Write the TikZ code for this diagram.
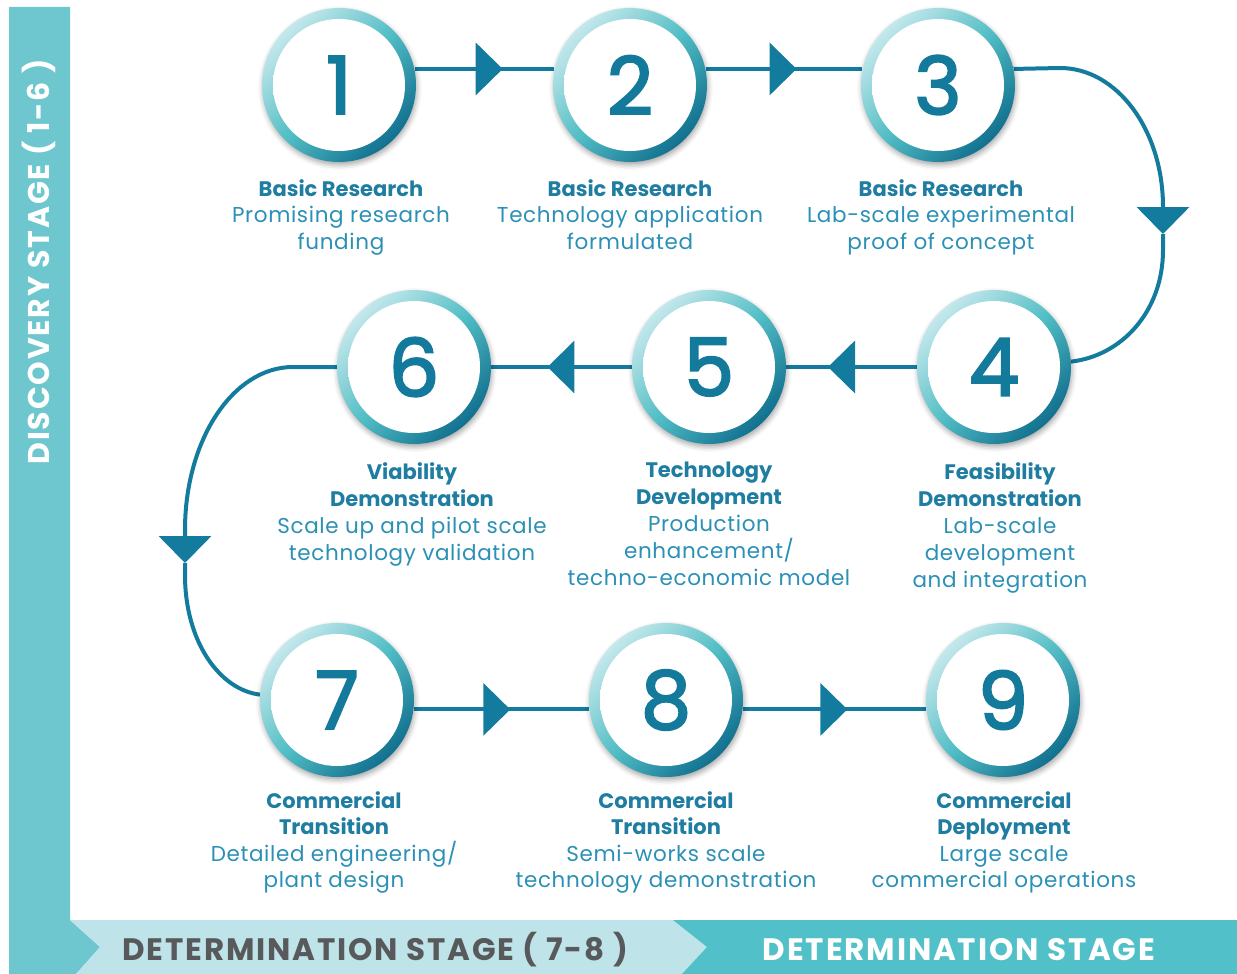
\documentclass[tikz,border=0pt]{standalone}
\usepackage{fontspec}
\setmainfont{Poppins}
\newfontfamily\bodyfont[LetterSpace=3]{Poppins}
\newfontfamily\stagefont[LetterSpace=6]{Poppins}
\newfontfamily\digitfont[FakeBold=2.5]{Poppins}
\usetikzlibrary{arrows.meta,decorations.markings,shadows.blur,backgrounds}
\definecolor{barc}{HTML}{6EC7CE}
\definecolor{lightband}{HTML}{BEE3E9}
\definecolor{darkband}{HTML}{52C0C8}
\definecolor{grayc}{HTML}{58595B}
\definecolor{linec}{HTML}{137C9E}
\definecolor{digitc}{HTML}{137A9C}
\definecolor{titlec}{HTML}{1E7DA0}
\definecolor{bodyc}{HTML}{2B90B5}
\definecolor{ringlight}{HTML}{C4E8EC}
\definecolor{ringmid}{HTML}{52BEC5}
\definecolor{ringdark}{HTML}{11708F}
\pgfdeclareradialshading{innerglow}{\pgfpoint{-4bp}{4bp}}{color(0bp)=(white); color(38bp)=(white); color(47bp)=(black!6); color(50bp)=(black!14)}
\newcommand{\ttl}[1]{{\rmfamily\fontsize{21}{26.5}\selectfont\color{titlec}\bfseries #1}}
\begin{document}
\begin{tikzpicture}[x=1pt,y=-1pt,
  ring/.style={circle, minimum size=154pt, inner sep=0pt,
    top color=ringlight, bottom color=ringdark, middle color=ringmid, shading angle=45,
    blur shadow={shadow xshift=1pt, shadow yshift=-3pt, shadow blur radius=5pt, shadow opacity=35}},
  inner/.style={circle, minimum size=132pt, inner sep=0pt, shade, shading=innerglow,
    text=digitc, font=\digitfont\fontsize{80}{80}\selectfont},
  conn/.style={draw=linec, line width=4pt},
  tri/.tip={Triangle[length=27pt,width=52pt]},
  midarrow/.style={postaction={decorate}, decoration={markings, mark=at position #1 with {\arrow{tri}}}},
  label/.style={anchor=north, align=center, text=bodyc, inner sep=0pt,
    font=\bodyfont\fontsize{21.5}{26.5}\selectfont},
  label27/.style={label, font=\bodyfont\fontsize{21.5}{27}\selectfont},
  stage/.style={font=\stagefont\fontsize{31}{33}\selectfont\bfseries, inner sep=0pt}
]
\useasboundingbox (0,0) rectangle (1237,974);
% bands
\fill[barc] (9,7) -- (70,7) -- (70,920) -- (100,947) -- (76,974) -- (9,974) -- cycle;
\fill[lightband] (70,920) -- (673,920) -- (707,947) -- (682,974) -- (76,974) -- (100,947) -- cycle;
\fill[darkband] (673,920) -- (1237,920) -- (1237,974) -- (682,974) -- (707,947) -- cycle;
\node[stage, font=\stagefont\fontsize{30}{32}\selectfont\bfseries, text=white, rotate=90] (sd) at (39,262) {DISCOVERY STAGE ( 1-6 )};
\node[stage, text=grayc] (sdet) at (375,950) {DETERMINATION STAGE ( 7-8 )};
\node[stage, text=white] (sdep) at (959,950) {DETERMINATION STAGE};
% circles
\foreach \n/\x/\y in {1/339/85, 2/630/85, 3/938/85, 4/994/367, 5/709/367, 6/414/367, 7/337/700, 8/666/700, 9/1003/700}{
  \node[ring] (c\n) at (\x,\y) {};
  \node[inner] (n\n) at (c\n) {\n};
}
% connectors
\coordinate (k1) at (1163,234);
\coordinate (k2) at (185,563);
\begin{scope}[on background layer]
\draw[conn, midarrow=0.63] (c1.12) -- (c2.168);
\draw[conn, midarrow=0.58] (c2.12) -- (c3.168);
\draw[conn, -{tri}] (c3.12) -- (1060,68) .. controls (1117,68) and (1163,130) .. (1163,207) -- (k1);
\draw[conn] (k1) -- (1163,250) .. controls (1163,312) and (1121,356) .. (c4.4);
\draw[conn, midarrow=0.68] (c4.west) -- (c5.east);
\draw[conn, midarrow=0.6] (c5.west) -- (c6.east);
\draw[conn, -{tri}] (c6.west) -- (293,367) .. controls (233,367) and (185,440) .. (185,530) -- (k2);
\draw[conn] (k2) -- (185,575) .. controls (185,642) and (220,690) .. (c7.176);
\draw[conn, midarrow=0.55] (c7.-7) -- (c8.187);
\draw[conn, midarrow=0.57] (c8.-7) -- (c9.187);
\end{scope}
% labels
\node[label] (l1) at (341,179) {\ttl{Basic Research}\\Promising research\\funding};
\node[label] (l2) at (630,179) {\ttl{Basic Research}\\Technology application\\formulated};
\node[label] (l3) at (941,179) {\ttl{Basic Research}\\Lab-scale experimental\\proof of concept};
\node[label27] (l6) at (412,462) {\ttl{Viability}\\\ttl{Demonstration}\\Scale up and pilot scale\\technology validation};
\node[label27] (l5) at (709,462) {\ttl{Technology}\\\ttl{Development}\\Production\\enhancement/\\techno-economic model};
\node[label27] (l4) at (1000,462) {\ttl{Feasibility}\\\ttl{Demonstration}\\Lab-scale\\development\\and integration};
\node[label] (l7) at (334,791) {\ttl{Commercial}\\\ttl{Transition}\\Detailed engineering/\\plant design};
\node[label] (l8) at (666,791) {\ttl{Commercial}\\\ttl{Transition}\\Semi-works scale\\technology demonstration};
\node[label] (l9) at (1004,791) {\ttl{Commercial}\\\ttl{Deployment}\\Large scale\\commercial operations};
\end{tikzpicture}
\end{document}
